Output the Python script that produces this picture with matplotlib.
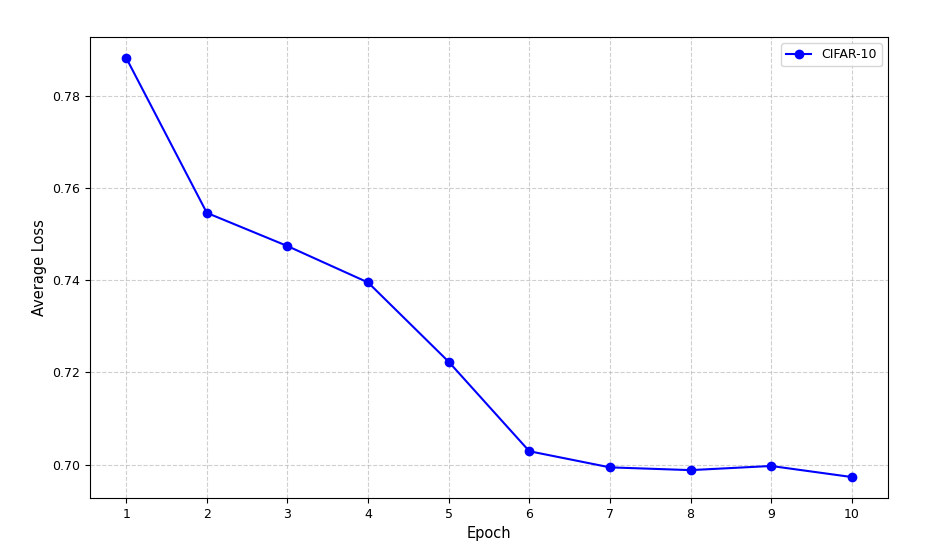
import matplotlib
matplotlib.use("Agg")
import matplotlib.pyplot as plt

# average loss per epoch
epochs = [1, 2, 3, 4, 5, 6, 7, 8, 9, 10]
avg_loss = [0.7882, 0.7546, 0.7474, 0.7395, 0.7223, 0.7029, 0.6994, 0.6988, 0.6997, 0.6973]
series_name = 'CIFAR-10'

fig = plt.figure(figsize=(9.51, 5.51), dpi=100)
ax = fig.add_axes([0.0946, 0.0962, 0.8392, 0.8366])

ax.plot(epochs, avg_loss, marker='o', markersize=6, color='blue', label=series_name)
ax.set_xticks(epochs)
ax.tick_params(labelsize=9)
ax.set_xlabel('Epoch', fontsize=10.5)
ax.set_ylabel('Average Loss', fontsize=10.5)
ax.grid(True, linestyle='--', alpha=0.6)
ax.legend(loc='upper right', fontsize=9)

fig.savefig('out.png', dpi=100)
